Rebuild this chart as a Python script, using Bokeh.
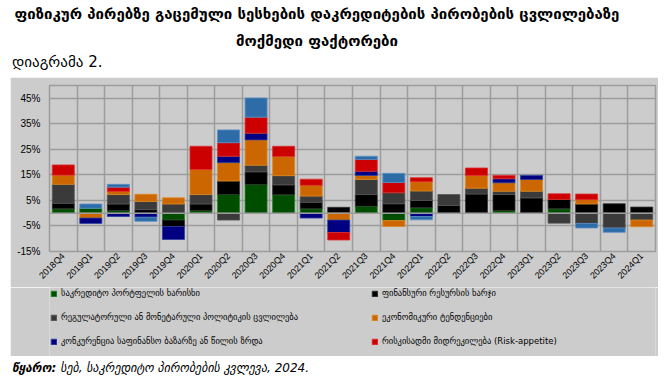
import numpy as np
from bokeh.plotting import figure
from bokeh.models import (Legend, LegendItem, FixedTicker, PrintfTickFormatter,
                          Span, Div, ColumnDataSource, Range1d)
from bokeh.layouts import column
from bokeh.embed import file_html
from bokeh.resources import INLINE

# ---------------- data ----------------
quarters = ["2018Q4", "2019Q1", "2019Q2", "2019Q3", "2019Q4",
            "2020Q1", "2020Q2", "2020Q3", "2020Q4",
            "2021Q1", "2021Q2", "2021Q3", "2021Q4",
            "2022Q1", "2022Q2", "2022Q3", "2022Q4",
            "2023Q1", "2023Q2", "2023Q3", "2023Q4", "2024Q1"]

credit_quality = [1.7, 1.9, 1.0, 0.0, -2.7, 1.0, 7.3, 11.2, 7.2, 1.7, 0.0, 2.7, -2.9,
                  2.1, 0.0, 0.0, 1.0, 0.0, 1.7, 0.0, 0.0, 0.0]
funding_cost = [2.2, 0.0, 2.6, 1.4, -2.5, 2.6, 5.3, 5.0, 3.9, 2.6, 2.3, 4.6, 3.7,
                2.9, 3.0, 7.5, 6.3, 6.0, 3.7, 3.6, 3.7, 2.4]
regulatory_policy = [7.4, 0.0, 3.7, 3.2, 3.6, 3.7, -2.7, 2.6, 3.6, 2.4, 0.0, 5.9, 4.3,
                     3.7, 4.3, 2.3, 1.3, 2.6, -3.9, -4.0, -5.8, -2.7]
economic_expectations = [3.6, -1.9, 1.2, 2.8, 2.4, 9.8, 7.2, 9.9, 7.5, 4.2, -2.7, 1.6, -2.3,
                         3.6, 0.0, 5.0, 3.3, 4.6, 0.0, 1.7, 0.0, -2.6]
competition = [0.0, -2.1, -1.3, -1.6, -5.1, 0.0, 2.5, 2.6, 0.0, -1.9, -4.9, 1.6, 0.0,
               -1.3, 0.0, 0.0, 1.6, 1.6, 0.0, 0.0, 0.0, 0.0]
risk_appetite = [4.0, 0.0, 1.7, 0.0, 0.0, 9.1, 5.3, 6.3, 4.0, 2.4, -2.9, 4.6, 4.0,
                 1.6, 0.0, 2.9, 1.3, 0.0, 2.2, 2.2, 0.0, 0.0]
other_factors = [0.0, 1.7, 1.1, -1.6, 0.0, 0.0, 5.0, 7.5, 0.0, 0.0, 0.0, 1.3, 3.6,
                 -1.3, 0.0, 0.0, 0.0, 0.0, 0.0, -1.8, -1.7, 0.0]

series_names = ["საკრედიტო პორტფელის ხარისხი",
                "ფინანსური რესურსის ხარჯი",
                "რეგულატორული ან მონეტარული პოლიტიკის ცვლილება",
                "ეკონომიკური ტენდენციები",
                "კონკურენცია საფინანსო ბაზარზე ან წილის ზრდა",
                "რისკისადმი მიდრეკილება (Risk-appetite)",
                None]
series_values = [credit_quality, funding_cost, regulatory_policy, economic_expectations,
                 competition, risk_appetite, other_factors]
series_colors = ["#004D00", "#000000", "#3A3A3A", "#CC6600", "#000080", "#CC0000", "#2E6CA8"]
edge_colors = ["#1E8A1E", "#333333", "#555555", "#E08A1E", "#2A3FA0", "#E03030", "#5A8FC8"]

y_ticks = [-15, -5, 5, 15, 25, 35, 45]

title_line1 = "ფიზიკურ პირებზე გაცემული სესხების დაკრედიტების პირობების ცვლილებაზე"
title_line2 = "მოქმედი ფაქტორები"
subtitle = "დიაგრამა 2."
source_label = "წყარო:"
source_text = "სებ, საკრედიტო პირობების კვლევა, 2024."

GEO = "'DejaVu Sans', 'Noto Sans Georgian', sans-serif"
PANEL = "#CCCCCC"
GRID = "#9C9C9C"

# ---------------- chart ----------------
n = len(quarters)
xs = np.arange(n)

p = figure(width=648, height=210, x_range=(-0.5, n - 0.5), y_range=(-15, 50),
           output_backend="svg", toolbar_location=None,
           min_border_left=39, min_border_right=3, min_border_top=8, min_border_bottom=36,
           background_fill_color=PANEL, border_fill_color=PANEL,
           outline_line_color=GRID, outline_line_width=1.5,
           margin=(0, 0, 0, 2))

pos_base = np.zeros(n)
neg_base = np.zeros(n)
sources = []
for vals, color, edge in zip(series_values, series_colors, edge_colors):
    v = np.array(vals, dtype=float)
    pos = np.where(v > 0, v, 0.0)
    neg = np.where(v < 0, v, 0.0)
    bottom = np.where(v >= 0, pos_base, neg_base + neg)
    top = np.where(v >= 0, pos_base + pos, neg_base)
    pos_base = pos_base + pos
    neg_base = neg_base + neg
    mask = v != 0
    src = ColumnDataSource(dict(x=xs[mask], bottom=bottom[mask], top=top[mask]))
    sources.append(src)
    p.vbar(x="x", bottom="bottom", top="top", width=0.8, source=src,
           fill_color=color, line_color=edge, line_width=0.8)

p.add_layout(Span(location=0, dimension="width", line_color=GRID, line_width=1.5))

p.xgrid.ticker = FixedTicker(ticks=list(xs[:-1] + 0.5))
p.xgrid.grid_line_color = GRID
p.xgrid.grid_line_width = 1.5
p.ygrid.ticker = FixedTicker(ticks=y_ticks)
p.ygrid.grid_line_color = GRID
p.ygrid.grid_line_width = 1.5

p.yaxis.ticker = FixedTicker(ticks=y_ticks)
p.yaxis.formatter = PrintfTickFormatter(format="%d%%")
p.yaxis.axis_line_color = None
p.yaxis.major_tick_line_color = None
p.yaxis.minor_tick_line_color = None
p.yaxis.major_tick_out = 0
p.yaxis.major_tick_in = 0
p.yaxis.major_label_standoff = 9
p.yaxis.major_label_text_font = "Liberation Sans"
p.yaxis.major_label_text_font_size = "10px"
p.yaxis.major_label_text_color = "#000000"

p.xaxis.ticker = FixedTicker(ticks=list(xs))
p.xaxis.major_label_overrides = {int(i): q for i, q in zip(xs, quarters)}
p.xaxis.major_label_orientation = np.pi / 4
p.xaxis.axis_line_color = None
p.xaxis.major_tick_line_color = None
p.xaxis.minor_tick_line_color = None
p.xaxis.major_tick_out = 0
p.xaxis.major_tick_in = 0
p.xaxis.major_label_standoff = 3
p.xaxis.major_label_text_font = "Liberation Sans"
p.xaxis.major_label_text_font_size = "9px"
p.xaxis.major_label_text_color = "#000000"

# ---------------- legend panel ----------------
lg = figure(width=648, height=69, x_range=Range1d(1000, 1001), y_range=Range1d(1000, 1001),
            output_backend="svg", toolbar_location=None,
            x_axis_location=None, y_axis_location=None,
            min_border_left=0, min_border_right=0, min_border_top=0, min_border_bottom=0,
            background_fill_color=PANEL, border_fill_color=PANEL,
            outline_line_color=None, margin=(0, 0, 0, 2))
lg.grid.visible = False

items = []
for nm, src, color, edge in zip(series_names, sources, series_colors, edge_colors):
    if nm is None:
        continue
    r = lg.vbar(x="x", bottom="bottom", top="top", width=0.8, source=src,
                fill_color=color, line_color=edge, line_width=0.8)
    items.append(LegendItem(label=nm, renderers=[r]))

legend = Legend(
    items=items, location=(1, 10), orientation="horizontal", ncols=2,
    padding=0, margin=0, spacing=14,
    glyph_width=7, glyph_height=7, label_standoff=4, label_width=296, label_height=10,
    label_text_font="DejaVu Sans", label_text_font_size="8.5px", label_text_color="#000000",
    background_fill_alpha=0, border_line_color=None)
lg.add_layout(legend, "center")

# ---------------- texts ----------------
title_html = (
    f'<div style="height:69px;overflow:visible;padding-left:4px;font-family:{GEO};color:#000;white-space:nowrap">'
    f'<div style="width:610px;text-align:center;font-weight:bold;font-size:15px;line-height:12px">{title_line1}</div>'
    f'<div style="width:610px;text-align:center;font-weight:bold;font-size:15px;line-height:42px">{title_line2}</div>'
    f'<div style="font-size:15px;line-height:6px;position:relative;top:-3px">{subtitle}</div>'
    f'</div>'
)
title_div = Div(text=title_html, width=648, height=69, margin=0)

source_html = (
    f'<div style="height:19px;overflow:visible;padding-left:4px;padding-top:4px;font-family:{GEO};font-size:12px;font-style:italic;'
    f'line-height:16px;color:#000;white-space:nowrap"><b>{source_label}</b> {source_text}</div>'
)
source_div = Div(text=source_html, width=648, height=19, margin=0)

layout = column(title_div, p, lg, source_div, spacing=0, margin=(8, 0, 0, 8))

open("out.html", "w").write(file_html(layout, INLINE))
